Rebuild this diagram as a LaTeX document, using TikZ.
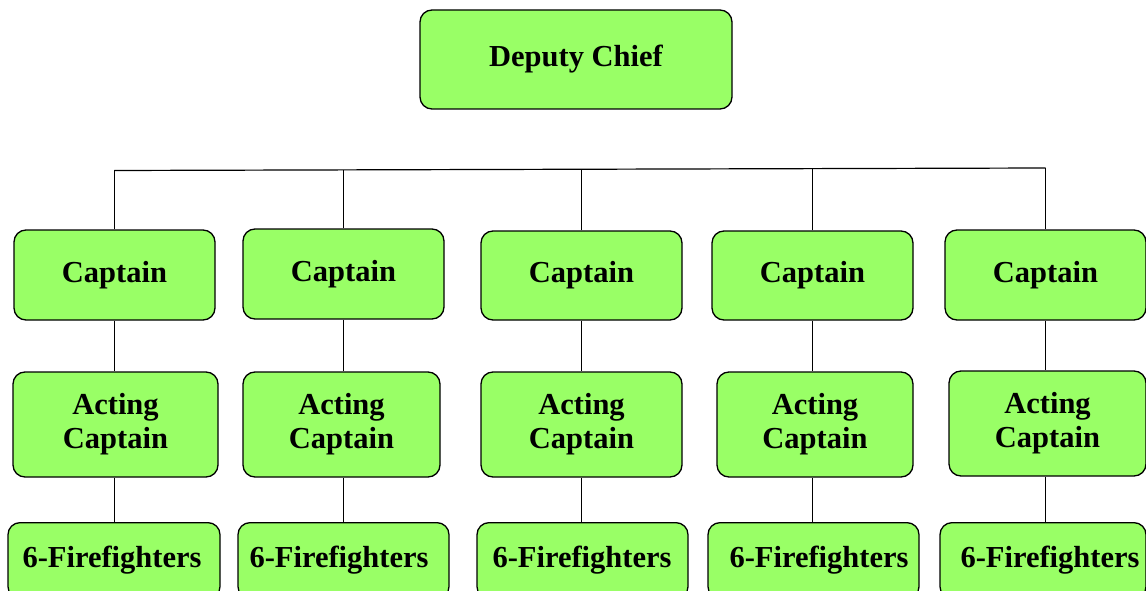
\documentclass[tikz,border=0pt]{standalone}
\usepackage{fontspec}
\setmainfont{Liberation Serif}
\definecolor{boxgreen}{HTML}{99FF66}
\begin{document}
\begin{tikzpicture}[x=1pt,y=-1pt,
  lbl/.style={font=\fontsize{30.5}{34}\selectfont\bfseries, align=center},
  box/.style={draw=black, line width=1.3pt, fill=boxgreen, rounded corners=12pt, inner sep=0pt, lbl},
  conn/.style={draw=black, line width=1.2pt}]
\path[use as bounding box] (0,0) rectangle (1146,591);
\begin{scope}
\clip (0,0) rectangle (1146,591);
% top
\node[box, minimum width=312pt, minimum height=99pt] (dc) at (576,59.5) {Deputy Chief};
% captains
\node[box, minimum width=201pt, minimum height=90pt] (c1) at (114.5,275) {Captain};
\node[box, minimum width=201pt, minimum height=90pt] (c2) at (343.5,274) {Captain};
\node[box, minimum width=201pt, minimum height=89pt] (c3) at (581.5,275.5) {Captain};
\node[box, minimum width=201pt, minimum height=89pt] (c4) at (812.5,275.5) {Captain};
\node[box, minimum width=201pt, minimum height=90pt] (c5) at (1045.5,275) {Captain};
% acting captains
\node[box, minimum width=205pt, minimum height=105pt] (a1) at (115.5,424.5) {Acting\\Captain};
\node[box, minimum width=197pt, minimum height=105pt] (a2) at (341.5,424.5) {Acting\\Captain};
\node[box, minimum width=201pt, minimum height=105pt] (a3) at (581.5,424.5) {Acting\\Captain};
\node[box, minimum width=196pt, minimum height=105pt] (a4) at (815,424.5) {Acting\\Captain};
\node[box, minimum width=197pt, minimum height=105pt] (a5) at (1047.5,423.5) {Acting\\Captain};
% firefighters
\node[box, minimum width=212pt, minimum height=76pt, anchor=north] (f1) at (114,522) {};
\node[box, minimum width=211pt, minimum height=76pt, anchor=north] (f2) at (343.5,522) {};
\node[box, minimum width=211pt, minimum height=76pt, anchor=north] (f3) at (582.5,522) {};
\node[box, minimum width=211pt, minimum height=76pt, anchor=north] (f4) at (813.5,522) {};
\node[box, minimum width=206pt, minimum height=76pt, anchor=north] (f5) at (1043,522) {};
\foreach \i/\x in {1/112,2/339,3/582,4/819,5/1050}{
  \node[lbl] (t\i) at (\x,560) {6-Firefighters};
}
% bus
\coordinate (busL) at (114.5,170.5);
\coordinate (busR) at (1045.5,168);
\draw[conn] (busL) -- (busR);
\draw[conn] (c1.north) -- (busL);
\draw[conn] (c2.north) -- (c2.north |- 0,170);
\draw[conn] (c3.north) -- (c3.north |- 0,169.5);
\draw[conn] (c4.north) -- (c4.north |- 0,168.5);
\draw[conn] (c5.north) -- (busR);
% vertical connectors
\draw[conn] (c1.south) -- (c1.south |- a1.north);
\draw[conn] (c2.south) -- (c2.south |- a2.north);
\draw[conn] (c3.south) -- (c3.south |- a3.north);
\draw[conn] (c4.south) -- (c4.south |- a4.north);
\draw[conn] (c5.south) -- (c5.south |- a5.north);
\draw[conn] (a1.south -| c1.south) -- (c1.south |- f1.north);
\draw[conn] (a2.south -| c2.south) -- (c2.south |- f2.north);
\draw[conn] (a3.south -| c3.south) -- (c3.south |- f3.north);
\draw[conn] (a4.south -| c4.south) -- (c4.south |- f4.north);
\draw[conn] (a5.south -| c5.south) -- (c5.south |- f5.north);
\end{scope}
\end{tikzpicture}
\end{document}
